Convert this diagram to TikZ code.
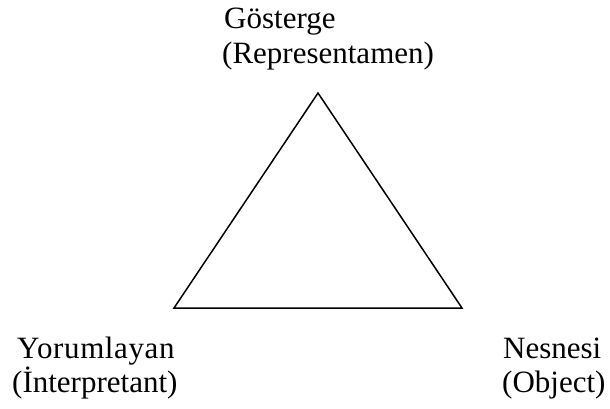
\documentclass[tikz,border=0pt]{standalone}
\usepackage{fontspec}
\setmainfont{Liberation Serif}
\usetikzlibrary{positioning}

\tikzset{
  label/.style={inner sep=0pt,anchor=base west,font=\fontsize{31}{36}\selectfont}
}

\begin{document}
\begin{tikzpicture}[x=1pt,y=-1pt]
    \useasboundingbox (0,0) rectangle (610,408);
    % corners of the triangle
    \coordinate (top) at (318,93);
    \coordinate (left) at (174,308);
    \coordinate (right) at (462,308);
    \draw[line width=1.5pt,line join=miter] (top) -- (left) -- (right) -- cycle;
    % labels
    \node[label] (gosterge) at (224,28) {Gösterge};
    \node[label] (repr) at (222,63) {(Representamen)};
    \node[label] (yorum) at (17,358) {\addfontfeature{LetterSpace=2}Yorumlayan};
    \node[label] (interp) at (12,392) {(İnterpretant)};
    \node[label] (nesne) at (503,358) {Nesnesi};
    \node[label] (object) at (502,392) {(Object)};
  \end{tikzpicture}
\end{document}
